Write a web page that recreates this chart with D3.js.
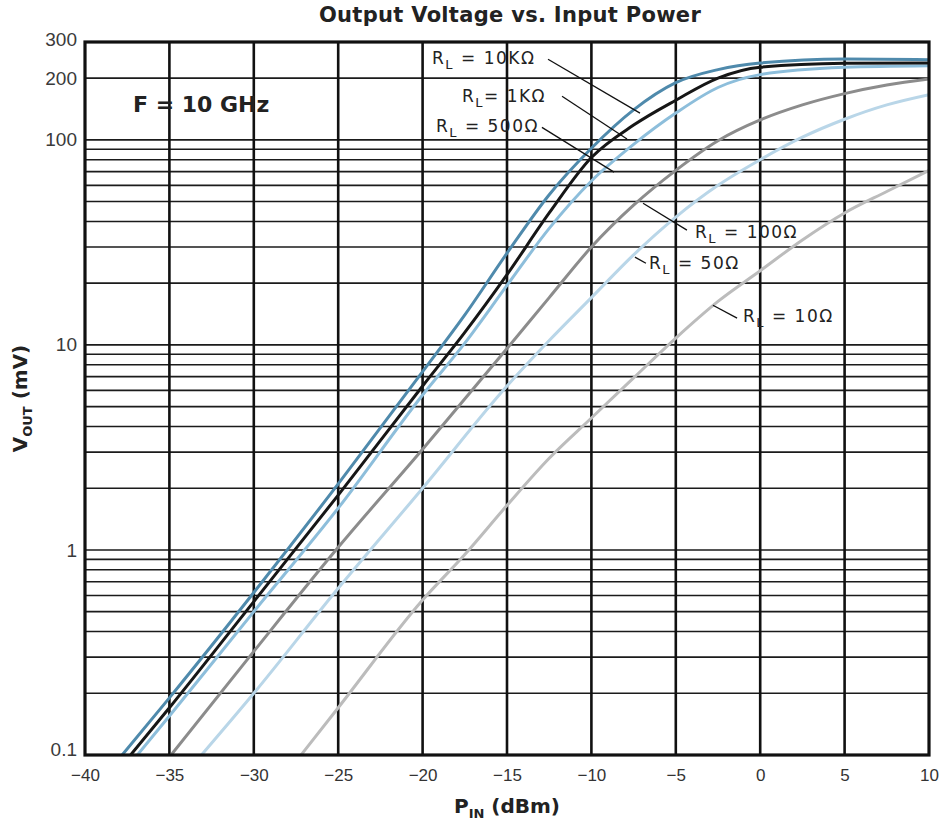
<!DOCTYPE html>
<html>
<head>
<meta charset="utf-8">
<script src="https://cdn.jsdelivr.net/npm/d3@7"></script>
<style>
  html, body { margin: 0; padding: 0; background: #fff; }
  svg { display: block; font-family: "Liberation Sans", Arial, sans-serif; }
</style>
</head>
<body>
<script>
const width = 945;
const height = 829;

// x ticks (dBm) and y ticks (mV)
const xTicks = [-40, -35, -30, -25, -20, -15, -10, -5, 0, 5, 10];
const yTicks = [0.1, 1, 10, 100, 200, 300];
const yGrid = [0.2, 0.3, 0.4, 0.5, 0.6, 0.7, 0.8, 0.9,
               1, 2, 3, 4, 5, 6, 7, 8, 9,
               10, 20, 30, 40, 50, 60, 70, 80, 90, 100, 200];

// curves: [P_IN dBm, V_OUT mV]
const rl10k = [[-37.8, 0.1], [-35, 0.19], [-30, 0.62], [-25, 2.1], [-20, 7.4], [-17.5, 14], [-15, 28],
  [-12.5, 54], [-10, 91], [-7.5, 140], [-5, 190], [-2.5, 220], [0, 237], [5, 248], [10, 246]];
const rl1k = [[-37.3, 0.1], [-35, 0.17], [-30, 0.56], [-25, 1.85], [-20, 6.3], [-17.5, 11.5], [-15, 22],
  [-12.5, 44], [-10, 82], [-7.5, 118], [-5, 156], [-2.5, 200], [0, 226], [5, 236], [10, 237]];
const rl500 = [[-36.9, 0.1], [-35, 0.155], [-30, 0.5], [-25, 1.6], [-20, 5.7], [-17.5, 10.2], [-15, 19.5],
  [-12.5, 37], [-10, 63], [-7.5, 95], [-5, 135], [-2.5, 180], [0, 208], [5, 226], [10, 230]];
const rl100 = [[-34.9, 0.1], [-30, 0.32], [-25, 1.03], [-20, 3.1], [-15, 9.6], [-12.5, 17], [-10, 30],
  [-7.5, 48], [-5, 71], [-2.5, 99], [0, 125], [2.5, 148], [5, 168], [7.5, 185], [10, 198]];
const rl50 = [[-33.1, 0.1], [-30, 0.2], [-25, 0.65], [-20, 2.0], [-15, 6.3], [-12.5, 10.5], [-10, 17],
  [-7.5, 27.5], [-5, 42], [-2.5, 60], [0, 80], [2.5, 103], [5, 126], [7.5, 148], [10, 166]];
const rl10 = [[-27.2, 0.1], [-25, 0.17], [-20, 0.57], [-17.5, 0.95], [-15, 1.65], [-12.5, 2.8], [-10, 4.4],
  [-7.5, 6.9], [-5, 10.8], [-2.5, 16.3], [0, 23], [2.5, 32.5], [5, 44], [7.5, 56], [10, 71]];

const series = [
  { name: "10Ω", values: rl10, color: "#bcbcbc" },
  { name: "50Ω", values: rl50, color: "#b9d6e8" },
  { name: "100Ω", values: rl100, color: "#8c8c8c" },
  { name: "500Ω", values: rl500, color: "#8dbedb" },
  { name: "1KΩ", values: rl1k, color: "#161616" },
  { name: "10KΩ", values: rl10k, color: "#4f8aac" }
];

// labels: text position and leader line, all in data units
const labels = [
  { text: " = 10KΩ", at: [-19.44, 234], from: [-12.57, 247], to: [-7.12, 135] },
  { text: "= 1KΩ", at: [-17.67, 153], from: [-11.74, 163], to: [-7.89, 101] },
  { text: " = 500Ω", at: [-19.21, 109], from: [-12.93, 115], to: [-8.66, 69.6] },
  { text: " = 100Ω", at: [-3.86, 33.2], from: [-6.94, 49.1], to: [-4.34, 36.3] },
  { text: " = 50Ω", at: [-6.59, 23.4], from: [-7.42, 26.8], to: [-6.77, 25.0] },
  { text: " = 10Ω", at: [-1.02, 12.9], from: [-2.80, 15.6], to: [-1.37, 13.5] }
];

const x = d3.scaleLinear().domain([-40, 10]).range([85, 929]);
const y = d3.scaleLog().domain([0.1, 300]).range([755, 42]);

const svg = d3.select(document.body).append("svg")
  .attr("width", width)
  .attr("height", height);

svg.append("rect").attr("width", width).attr("height", height).attr("fill", "#fff");

svg.append("defs").append("clipPath").attr("id", "plot")
  .append("rect")
  .attr("x", x(-40)).attr("y", y(300))
  .attr("width", x(10) - x(-40)).attr("height", y(0.1) - y(300));

// grid
svg.append("g")
  .attr("stroke", "#1b1b1b")
  .attr("stroke-width", 1.6)
  .selectAll("line")
  .data(yGrid)
  .join("line")
  .attr("x1", x(-40)).attr("x2", x(10))
  .attr("y1", d => y(d)).attr("y2", d => y(d));

svg.append("g")
  .attr("stroke", "#111")
  .attr("stroke-width", 2.6)
  .selectAll("line")
  .data(xTicks.slice(1, -1))
  .join("line")
  .attr("x1", d => x(d)).attr("x2", d => x(d))
  .attr("y1", y(300)).attr("y2", y(0.1));

// curves
const line = d3.line()
  .x(d => x(d[0]))
  .y(d => y(d[1]))
  .curve(d3.curveMonotoneX);

svg.append("g")
  .attr("clip-path", "url(#plot)")
  .attr("fill", "none")
  .attr("stroke-width", 3)
  .attr("stroke-linejoin", "round")
  .selectAll("path")
  .data(series)
  .join("path")
  .attr("stroke", d => d.color)
  .attr("d", d => line(d.values));

// frame
svg.append("rect")
  .attr("x", x(-40)).attr("y", y(300))
  .attr("width", x(10) - x(-40)).attr("height", y(0.1) - y(300))
  .attr("fill", "none")
  .attr("stroke", "#111")
  .attr("stroke-width", 3.2);

// axes
const xAxis = svg.append("g")
  .attr("transform", `translate(0,${y(0.1)})`)
  .call(d3.axisBottom(x).tickValues(xTicks).tickSize(0).tickPadding(14)
    .tickFormat(d => d < 0 ? "\u2212" + Math.abs(d) : d));
xAxis.select(".domain").remove();
xAxis.selectAll("text").attr("font-size", 17).attr("fill", "#333")
  .attr("font-family", "Liberation Sans, Arial, sans-serif");

const yAxis = svg.append("g")
  .attr("transform", `translate(${x(-40)},0)`)
  .call(d3.axisLeft(y).tickValues(yTicks).tickSize(0).tickPadding(8)
    .tickFormat(d => String(d)));
yAxis.select(".domain").remove();
yAxis.selectAll("text").attr("font-size", 19).attr("fill", "#3a3a3a")
  .attr("font-family", "Liberation Sans, Arial, sans-serif");
yAxis.selectAll(".tick").filter(d => d === 0.1).select("text").attr("dy", "0.0em");
yAxis.selectAll(".tick").filter(d => d === 300).select("text").attr("dy", "0.2em");

// title
svg.append("text")
  .attr("x", 510).attr("y", 22)
  .attr("text-anchor", "middle")
  .attr("font-family", "DejaVu Sans, sans-serif")
  .attr("font-size", 21)
  .attr("font-weight", "bold")
  .attr("letter-spacing", 0.3)
  .attr("fill", "#222")
  .text("Output Voltage vs. Input Power");

// axis titles
const xt = svg.append("text")
  .attr("x", (x(-40) + x(10)) / 2).attr("y", 813)
  .attr("text-anchor", "middle")
  .attr("font-family", "DejaVu Sans, sans-serif")
  .attr("font-size", 20)
  .attr("font-weight", "bold")
  .attr("fill", "#222");
xt.append("tspan").text("P");
xt.append("tspan").attr("font-size", 13).attr("dy", 5).text("IN");
xt.append("tspan").attr("dy", -5).text(" (dBm)");

const yt = svg.append("text")
  .attr("transform", `translate(27,${(y(0.1) + y(300)) / 2}) rotate(-90)`)
  .attr("text-anchor", "middle")
  .attr("font-family", "DejaVu Sans, sans-serif")
  .attr("font-size", 20)
  .attr("font-weight", "bold")
  .attr("fill", "#222");
yt.append("tspan").text("V");
yt.append("tspan").attr("font-size", 13).attr("dy", 5).text("OUT");
yt.append("tspan").attr("dy", -5).text(" (mV)");

// frequency note
svg.append("text")
  .attr("x", x(-37.16)).attr("y", y(136))
  .attr("font-family", "DejaVu Sans, sans-serif")
  .attr("font-size", 22)
  .attr("font-weight", "bold")
  .attr("fill", "#222")
  .text("F = 10 GHz");

// curve labels
svg.append("g")
  .attr("stroke", "#111")
  .attr("stroke-width", 1.3)
  .selectAll("line")
  .data(labels)
  .join("line")
  .attr("x1", d => x(d.from[0])).attr("y1", d => y(d.from[1]))
  .attr("x2", d => x(d.to[0])).attr("y2", d => y(d.to[1]));

const lt = svg.append("g")
  .selectAll("text")
  .data(labels)
  .join("text")
  .attr("x", d => x(d.at[0])).attr("y", d => y(d.at[1]))
  .attr("font-family", "DejaVu Sans, sans-serif")
  .attr("font-size", 17)
  .attr("letter-spacing", 1.5)
  .attr("fill", "#222");
lt.append("tspan").text("R");
lt.append("tspan").attr("font-size", 13).attr("dy", 5).text("L");
lt.append("tspan").attr("dy", -5).text(d => d.text);
</script>
</body>
</html>
